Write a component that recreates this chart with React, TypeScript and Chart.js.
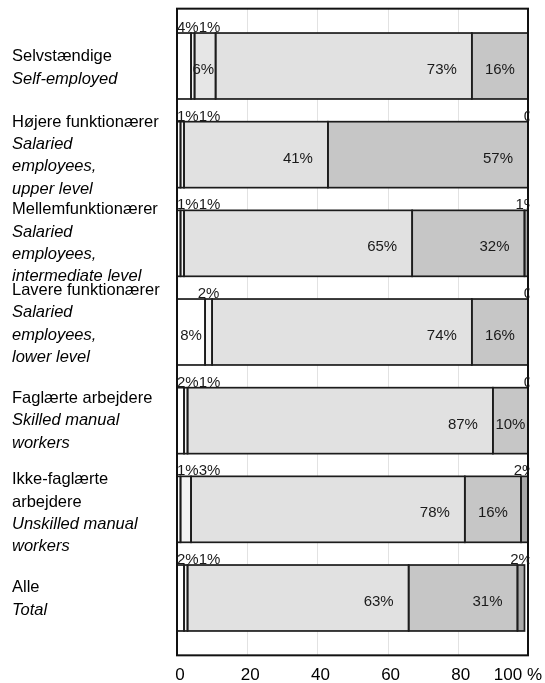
import React, { useEffect, useRef } from "react";
import { Chart, registerables } from "chart.js";

Chart.register(...registerables);

// ---- Data ----
const CATEGORIES = [
  "Selvstændige",
  "Højere funktionærer",
  "Mellemfunktionærer",
  "Lavere funktionærer",
  "Faglærte arbejdere",
  "Ikke-faglærte arbejdere",
  "Alle",
];
const LABELS_DA = [
  ["Selvstændige"],
  ["Højere funktionærer"],
  ["Mellemfunktionærer"],
  ["Lavere funktionærer"],
  ["Faglærte arbejdere"],
  ["Ikke-faglærte", "arbejdere"],
  ["Alle"],
];
const LABELS_EN = [
  ["Self-employed"],
  ["Salaried", "employees,", "upper level"],
  ["Salaried", "employees,", "intermediate level"],
  ["Salaried", "employees,", "lower level"],
  ["Skilled manual", "workers"],
  ["Unskilled manual", "workers"],
  ["Total"],
];
const SEG_A = [4, 1, 1, 8, 2, 1, 2];
const SEG_B = [1, 1, 1, 2, 1, 3, 1];
const SEG_C = [6, null, null, null, null, null, null];
const SEG_D = [73, 41, 65, 74, 87, 78, 63];
const SEG_E = [16, 57, 32, 16, 10, 16, 31];
const SEG_F = [null, 0, 1, 0, 0, 2, 2];
const X_TICKS = [0, 20, 40, 60, 80, 100];
const X_TICK_LABELS = ["0", "20", "40", "60", "80", "100 %"];

// ---- Styles ----
const SEG_COLORS = ["#ffffff", "#f3f3f3", "#e6e6e6", "#e1e1e1", "#c6c6c6", "#a9a9a9"];
const BORDER = "#1c1c1c";
const FONT = '"Liberation Sans", Arial, Helvetica, sans-serif';
const LABEL_NUDGE = [2, 1, 0, -8, 0, 4, 1];
const LINE_H = 22.3;
const FRAME_PAD = 13;

const overlayPlugin = {
  id: "overlay",
  beforeDatasetsDraw(chart: any) {
    const { ctx, chartArea } = chart;
    const xs = chart.scales.x;
    ctx.save();
    ctx.strokeStyle = "#e2e2e2";
    ctx.lineWidth = 1;
    X_TICKS.forEach((t) => {
      if (t === 0 || t === 100) return;
      const px = Math.round(xs.getPixelForValue(t)) + 0.5;
      ctx.beginPath();
      ctx.moveTo(px, chartArea.top - FRAME_PAD);
      ctx.lineTo(px, chartArea.bottom + FRAME_PAD);
      ctx.stroke();
    });
    ctx.restore();
  },
  afterDatasetsDraw(chart: any) {
    const { ctx, chartArea } = chart;
    const xs = chart.scales.x;
    const ys = chart.scales.y;
    const left = xs.getPixelForValue(0);
    const right = xs.getPixelForValue(100);
    const top = chartArea.top - FRAME_PAD;
    const bottom = chartArea.bottom + FRAME_PAD;
    const nBars = CATEGORIES.length;

    // segment outlines (from the bar elements laid out by the library)
    ctx.save();
    ctx.strokeStyle = BORDER;
    ctx.lineWidth = 1.7;
    chart.data.datasets.forEach((ds: any, i: number) => {
      chart.getDatasetMeta(i).data.forEach((el: any, j: number) => {
        const v = ds.data[j];
        if (v === null || v === undefined || v === 0) return;
        const p = el.getProps(["x", "base", "y", "height"], true);
        const x0 = Math.min(p.x, p.base);
        const x1 = Math.max(p.x, p.base);
        ctx.strokeRect(x0, p.y - p.height / 2, x1 - x0, p.height);
      });
    });
    ctx.restore();

    // frame
    ctx.save();
    ctx.strokeStyle = "#111";
    ctx.lineWidth = 2;
    ctx.strokeRect(left, top, right - left, bottom - top);
    ctx.restore();

    // value labels
    ctx.save();
    ctx.beginPath();
    ctx.rect(0, 0, right + 1.5, chart.height);
    ctx.clip();
    ctx.font = `15px ${FONT}`;
    ctx.fillStyle = "#1a1a1a";
    for (let j = 0; j < nBars; j++) {
      let prevEnd = left;
      chart.data.datasets.forEach((ds: any, i: number) => {
        const v = ds.data[j];
        if (v === null || v === undefined) return;
        const el = chart.getDatasetMeta(i).data[j];
        if (!el) return;
        const p = el.getProps(["x", "base", "y", "height"], true);
        const x0 = Math.min(p.x, p.base);
        const x1 = Math.max(p.x, p.base);
        const segW = x1 - x0;
        const text = v === 0 ? "0" : `${v}%`;
        const w = ctx.measureText(text).width;
        if (segW >= w - 3) {
          const pad = Math.max(1.5, Math.min(15, (segW - w) / 2));
          ctx.textAlign = "right";
          ctx.textBaseline = "middle";
          ctx.fillText(text, x1 - pad, p.y + 4);
        } else {
          const cx = (x0 + x1) / 2;
          const start = Math.max(cx - w / 2, left, prevEnd);
          ctx.textAlign = "left";
          ctx.textBaseline = "alphabetic";
          ctx.fillText(text, start, p.y - p.height / 2 - 1);
          prevEnd = start + w;
        }
      });
    }
    ctx.restore();

    // category labels
    ctx.save();
    ctx.fillStyle = "#000";
    ctx.textAlign = "left";
    ctx.textBaseline = "middle";
    for (let j = 0; j < nBars; j++) {
      const lines = [
        ...LABELS_DA[j].map((t) => ({ t, it: false })),
        ...LABELS_EN[j].map((t) => ({ t, it: true })),
      ];
      const cy = ys.getPixelForValue(j) + LABEL_NUDGE[j];
      const y0 = cy - ((lines.length - 1) * LINE_H) / 2;
      lines.forEach((ln, k) => {
        ctx.font = `${ln.it ? "italic " : ""}16.5px ${FONT}`;
        ctx.fillText(ln.t, 12, y0 + k * LINE_H);
      });
    }
    ctx.restore();

    // x tick labels
    ctx.save();
    ctx.fillStyle = "#000";
    ctx.font = `17px ${FONT}`;
    ctx.textBaseline = "alphabetic";
    X_TICKS.forEach((t, k) => {
      const px = xs.getPixelForValue(t);
      if (k === X_TICKS.length - 1) {
        ctx.textAlign = "right";
        ctx.fillText(X_TICK_LABELS[k], px + 14, 680);
      } else {
        ctx.textAlign = "center";
        ctx.fillText(X_TICK_LABELS[k], px + 3, 680);
      }
    });
    ctx.restore();
  },
};

export default function App() {
  const ref = useRef<HTMLCanvasElement | null>(null);
  useEffect(() => {
    if (!ref.current) return;
    const segs = [SEG_A, SEG_B, SEG_C, SEG_D, SEG_E, SEG_F];
    const chart = new Chart(ref.current, {
      type: "bar",
      data: {
        labels: CATEGORIES,
        datasets: segs.map((d, i) => ({
          label: `seg${i}`,
          data: d,
          backgroundColor: SEG_COLORS[i],
          borderWidth: 0,
          barPercentage: 0.744,
          categoryPercentage: 1,
        })),
      },
      options: {
        indexAxis: "y",
        responsive: false,
        animation: false,
        devicePixelRatio: 1,
        layout: { padding: { left: 177, right: 17, top: 21.67, bottom: 40.67 } },
        plugins: { legend: { display: false }, tooltip: { enabled: false } },
        scales: {
          x: { type: "linear", stacked: true, min: 0, max: 100, display: false },
          y: { type: "category", stacked: true, display: false },
        },
      },
      plugins: [overlayPlugin],
    } as any);
    return () => chart.destroy();
  }, []);
  return (
    <div style={{ position: "fixed", left: 0, top: 0, width: 545, height: 683, background: "#fff" }}>
      <canvas ref={ref} width={545} height={683} style={{ display: "block" }} />
    </div>
  );
}
